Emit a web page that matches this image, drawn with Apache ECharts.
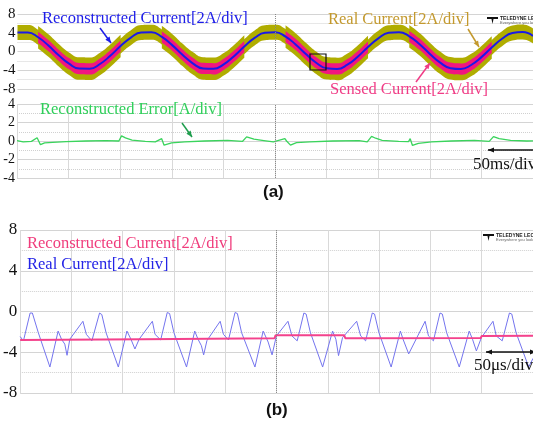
<!DOCTYPE html>
<html>
<head>
<meta charset="utf-8">
<script src="https://cdn.jsdelivr.net/npm/echarts@6.0.0/dist/echarts.min.js"></script>
<style>
  html, body { margin: 0; padding: 0; background: #fff; }
  #chart { width: 533px; height: 424px; }
</style>
</head>
<body>
<div id="chart"></div>
<script>
// (a) upper trace: time in ms, current in A (centre of the traces)
const waveT = [0, 10, 20, 30, 40, 50, 60, 70, 80, 90, 100, 110, 120, 130, 140, 150, 160, 170, 180, 190,
  200, 210, 220, 230, 240, 250, 260, 270, 280, 290, 300, 310, 320, 330, 340, 350, 360, 370, 380, 390,
  400, 410, 420, 430, 440, 450, 460, 470, 480, 490, 500];
const currentA = [4.06, 4.06, 3.04, 1.26, -0.81, -2.60, -3.65, -3.68, -2.67, -0.91, 1.16, 2.96, 4.04, 4.09, 3.11, 1.36, -0.71, -2.52, -3.62, -3.70,
  -2.74, -1.00, 1.05, 2.89, 4.01, 4.11, 3.18, 1.46, -0.60, -2.45, -3.59, -3.72, -2.81, -1.10, 0.96, 2.81, 3.98, 4.13, 3.25, 1.55,
  -0.51, -2.38, -3.56, -3.74, -2.88, -1.20, 0.86, 2.73, 3.94, 4.15, 3.31];
// time windows (ms) where the sensed current is shown
const sensedSpans = [[20, 100], [140, 220], [260, 340], [380, 460]];
// half thickness of the noisy traces (A)
const realHalf = 1.6;
const realHalfSensed = 2.4;
const sensedHalf = 1.2;

// (a) lower trace: reconstruction error
const errT = [0, 6, 14, 19.5, 21.4, 22.7, 26.8, 34.5, 47.6, 66.8, 86, 98.7, 101.3, 105.1, 111.5, 124.3, 134, 140.2, 142.5, 149.8,
  162.6, 181.7, 204, 218.4, 222.5, 229.6, 239.2, 248.4, 259.6, 261.2, 265, 270.8, 283.6, 305.9, 331.5, 339.4, 343.6, 347.5, 353.8, 369.8,
  379.4, 381, 383.2, 388.9, 401.7, 420.9, 443.3, 457.6, 461.7, 467.2, 478.3, 494, 500];
const errV = [0.05, -0.1, -0.04, 0.35, 0.15, -0.4, -0.2, -0.15, -0.07, 0, 0.03, 0, 0.55, 0.33, 0.1, -0.05, -0.1, 0.25, -0.45, -0.2,
  -0.1, 0, 0.07, -0.05, 0.45, 0.2, 0.05, -0.1, 0.25, 0, -0.45, -0.18, -0.1, 0, 0.03, -0.1, 0.5, 0.3, 0.07, -0.04,
  -0.07, 0.25, -0.48, -0.25, -0.1, 0, 0.07, -0.04, 0.48, 0.25, 0.07, 0, 0.02];

// (b): time in us
const realBT = [0, 3.2, 9.7, 11.9, 17.7, 29.0, 37.0, 40.3, 43.5, 45.7, 48.4, 61.2, 64.5, 69.9, 77.4, 79.6, 83.8, 95.7, 104.1, 108.0,
  111.9, 116.0, 128.9, 131.5, 137.0, 143.4, 145.7, 149.9, 162.2, 170.2, 173.4, 176.7, 178.9, 182.1, 195.0, 198.2, 203.1, 209.5, 211.8, 215.9,
  228.9, 236.9, 241.8, 245.6, 249.8, 261.1, 265.0, 270.1, 276.6, 278.8, 283.0, 294.9, 304.6, 307.8, 310.4, 314.3, 328.1, 332.0, 336.8, 343.3,
  345.5, 349.8, 361.7, 370.7, 373.3, 378.8, 394.8, 398.1, 402.9, 409.3, 411.6, 415.8, 428.1, 437.8, 441.0, 444.8, 449.7, 461.0, 464.2, 470.0,
  477.0, 479.3, 483.5, 495.8, 500];
const realBV = [-2.46, -2.88, -0.15, -0.15, -2.08, -5.45, -1.92, -2.72, -3.2, -4.3, -2.72, -0.96, -2.24, -2.88, -0.15, -0.3, -2.1, -5.45, -1.92, -2.72,
  -3.68, -2.72, -0.96, -2.24, -2.79, -0.1, -0.2, -2.08, -5.45, -1.92, -2.72, -3.36, -4.26, -2.86, -0.96, -2.24, -2.79, -0.1, -0.2, -2.08,
  -5.45, -1.92, -3.0, -4.26, -2.4, -0.96, -2.4, -2.88, -0.15, -0.25, -2.08, -5.45, -1.92, -2.72, -4.33, -2.56, -0.96, -2.4, -2.88, -0.15,
  -0.25, -2.08, -5.45, -1.92, -2.72, -4.16, -0.96, -2.4, -2.88, -0.15, -0.25, -2.08, -5.45, -1.92, -2.72, -3.87, -2.56, -0.96, -2.4, -2.88,
  -0.15, -0.25, -2.08, -5.45, -4.6];
const reconBT = [0, 120, 248, 249, 316, 317, 449, 450, 500];
const reconBV = [-2.8, -2.72, -2.63, -2.34, -2.34, -2.63, -2.6, -2.4, -2.38];

const yTicksA = [-8, 8, 4];
const yTicksErr = [-4, 4, 2];
const yTicksB = [-8, 8, 4];

const SERIF = '"Liberation Serif", "Times New Roman", serif';
const SANS = '"Liberation Sans", Arial, sans-serif';

const chart = echarts.init(document.getElementById('chart'));

const pairs = (xs, ys) => xs.map((x, i) => [x, ys[i]]);
const inSpan = t => sensedSpans.some(([a, b]) => t >= a && t <= b);

const triggerLine = at => ({
  silent: true, symbol: ['none', 'none'], label: { show: false },
  lineStyle: { color: '#8a8a8a', type: 'dotted', width: 1 },
  data: [{ xAxis: at }]
});

// noisy traces drawn as a band: invisible lower edge + stacked thickness
const band = (name, half, color, onlySpans) => {
  const base = {
    type: 'line', xAxisIndex: 0, yAxisIndex: 0, stack: name, stackStrategy: 'all',
    smooth: true, symbol: 'none', silent: true, lineStyle: { width: 0, opacity: 0 }
  };
  const on = t => !onlySpans || inSpan(t);
  return [
    { ...base, name: name + '-lo', data: waveT.map((t, i) => on(t) ? currentA[i] - half : null) },
    { ...base, name, areaStyle: { color, opacity: 1 }, data: waveT.map(t => on(t) ? 2 * half : null) }
  ];
};

const splitX = { lineStyle: { color: '#d9d9d9', width: 1 } };
const xAxes = [
  {
    type: 'category', gridIndex: 0, data: waveT.map(String), boundaryGap: false,
    axisLabel: { show: false }, axisTick: { show: false }, axisLine: { show: false },
    splitLine: { ...splitX, interval: 4 }
  },
  ...[1, 2].map(gi => ({
    type: 'value', gridIndex: gi, min: 0, max: 500, interval: 50,
    axisLabel: { show: false }, axisTick: { show: false }, axisLine: { show: false },
    splitLine: splitX
  }))
];
const yAxis = (gi, ticks, size, margin) => ({
  type: 'value', gridIndex: gi, min: ticks[0], max: ticks[1], interval: ticks[2],
  axisLine: { show: false }, axisTick: { show: false },
  axisLabel: { color: '#111', fontFamily: SERIF, fontSize: size, margin },
  splitLine: { lineStyle: { color: '#d4d4d4', width: 1 } },
  minorTick: { show: false, splitNumber: 2 },
  minorSplitLine: { show: true, lineStyle: { color: '#d0d0d0', type: 'dotted' } }
});

const label = (text, x, y, color, size = 16.5) => ({
  type: 'text', z: 100, x, y,
  style: { text, fill: color, fontSize: size, fontFamily: SERIF, align: 'left', textAlign: 'left', verticalAlign: 'middle', textVerticalAlign: 'middle' }
});
const head = (x, y, ang, color) => {
  const h = 6, w = 2.6, c = Math.cos(ang), s = Math.sin(ang);
  return {
    type: 'polygon', z: 100,
    shape: { points: [[x, y], [x - h * c + w * s, y - h * s - w * c], [x - h * c - w * s, y - h * s + w * c]] },
    style: { fill: color }
  };
};
const arrow = (x1, y1, x2, y2, color, both) => {
  const ang = Math.atan2(y2 - y1, x2 - x1);
  const els = [{ type: 'line', z: 100, shape: { x1, y1, x2, y2 }, style: { stroke: color, lineWidth: 1.5 } }, head(x2, y2, ang, color)];
  if (both) els.push(head(x1, y1, ang + Math.PI, color));
  return els;
};
const logo = (x, y) => [
  { type: 'polygon', z: 100, shape: { points: [[x, y], [x + 11, y], [x + 11, y + 2], [x + 6.5, y + 2], [x + 5.5, y + 7], [x + 4.5, y + 2], [x, y + 2]] }, style: { fill: '#111' } },
  { type: 'text', z: 100, x: x + 13, y: y - 1, style: { text: 'TELEDYNE LECROY', fill: '#222', fontSize: 5, fontWeight: 'bold', fontFamily: SANS } },
  { type: 'text', z: 100, x: x + 13, y: y + 4, style: { text: 'Everywhere you look', fill: '#666', fontSize: 4, fontFamily: SANS } }
];

const option = {
  animation: false,
  backgroundColor: '#fff',
  grid: [
    { left: 17, top: 14, right: -6, height: 75 },
    { left: 17, top: 104, right: -6, height: 74 },
    { left: 20, top: 230, right: -4, height: 163 }
  ],
  xAxis: xAxes,
  yAxis: [yAxis(0, yTicksA, 15, 2), yAxis(1, yTicksErr, 14, 2), yAxis(2, yTicksB, 17, 3)],
  series: [
    ...band('Real Current', realHalf, '#b0ad00', false).map((s, i) => i === 0 ? { ...s, markLine: triggerLine('250') } : s),
    ...band('Real Current wide', realHalfSensed, '#b0ad00', true),
    ...band('Sensed Current', sensedHalf, '#f2167f', true),
    {
      name: 'Reconstructed Current', type: 'line', xAxisIndex: 0, yAxisIndex: 0, smooth: true, symbol: 'none',
      lineStyle: { color: '#1a1ae6', width: 2 }, data: currentA
    },
    {
      name: 'Reconstructed Error', type: 'line', xAxisIndex: 1, yAxisIndex: 1, symbol: 'none',
      lineStyle: { color: '#3ad45c', width: 1.3 }, data: pairs(errT, errV), markLine: triggerLine(250)
    },
    {
      name: 'Real Current (b)', type: 'line', xAxisIndex: 2, yAxisIndex: 2, symbol: 'none',
      lineStyle: { color: '#7474ee', width: 1 }, data: pairs(realBT, realBV), markLine: triggerLine(250)
    },
    {
      name: 'Reconstructed Current (b)', type: 'line', xAxisIndex: 2, yAxisIndex: 2, symbol: 'none',
      lineStyle: { color: '#f4428c', width: 2 }, data: pairs(reconBT, reconBV)
    }
  ],
  graphic: [
    label('Reconstructed Current[2A/div]', 42, 18.5, '#1c1ce8'),
    ...arrow(100, 28, 111, 43, '#1c1ce8'),
    label('Real Current[2A/div]', 328, 19.5, '#c3992e'),
    ...arrow(468, 29, 479, 47, '#c3992e'),
    label('Sensed Current[2A/div]', 330, 90, '#f03c86'),
    ...arrow(416, 82, 430, 63, '#f03c86'),
    { type: 'rect', z: 100, shape: { x: 310, y: 54, width: 16, height: 16 }, style: { fill: 'none', stroke: '#111', lineWidth: 1.2 } },
    label('Reconstructed Error[A/div]', 40, 110, '#2fcf5a'),
    ...arrow(182, 123, 192, 137, '#1f9e4e'),
    ...arrow(488, 150, 540, 150, '#111', true),
    label('50ms/div', 473, 165, '#111', 17),
    { type: 'text', z: 100, x: 263, y: 192, style: { text: '(a)', fill: '#111', fontSize: 17, fontWeight: 'bold', fontFamily: SANS, verticalAlign: 'middle', textVerticalAlign: 'middle' } },
    ...logo(487, 17),
    label('Reconstructed Current[2A/div]', 27, 243.5, '#f03c7c'),
    label('Real Current[2A/div]', 27, 265, '#2424e6'),
    ...logo(483, 234),
    ...arrow(486, 352, 536, 352, '#111', true),
    label('50\u03bcs/div', 474, 366, '#111', 17),
    { type: 'text', z: 100, x: 266, y: 410, style: { text: '(b)', fill: '#111', fontSize: 17, fontWeight: 'bold', fontFamily: SANS, verticalAlign: 'middle', textVerticalAlign: 'middle' } }
  ]
};

chart.setOption(option);
</script>
</body>
</html>
